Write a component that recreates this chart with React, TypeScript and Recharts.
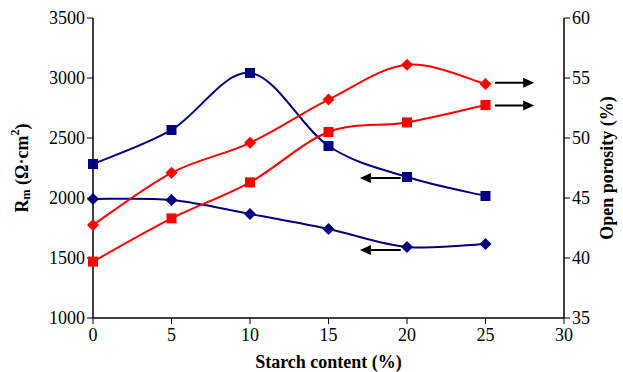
import { LineChart, Line, XAxis, YAxis, ReferenceLine } from 'recharts';

const starch = [0, 5, 10, 15, 20, 25];
const rmSquare = [2283, 2567, 3042, 2433, 2175, 2017];
const rmDiamond = [1992, 1983, 1867, 1742, 1592, 1617];
const porosityDiamond = [42.75, 47.1, 49.6, 53.2, 56.1, 54.5];
const porositySquare = [39.7, 43.3, 46.3, 50.5, 51.3, 52.75];

const xTicks = [0, 5, 10, 15, 20, 25, 30];
const leftTicks = [1000, 1500, 2000, 2500, 3000, 3500];
const rightTicks = [35, 40, 45, 50, 55, 60];

const data = starch.map((s, i) => ({
  starch: s,
  rmSquare: rmSquare[i],
  rmDiamond: rmDiamond[i],
  porDiamond: porosityDiamond[i],
  porSquare: porositySquare[i],
}));

const NAVY = '#000080';
const RED = '#ff0000';
const FONT = '"Liberation Serif", "DejaVu Serif", serif';

// Excel-like smoothing (Catmull-Rom through every point)
function smoothCurve(context: any) {
  let pts: number[][] = [];
  return {
    areaStart() {},
    areaEnd() {},
    lineStart() {
      pts = [];
    },
    point(x: number, y: number) {
      pts.push([+x, +y]);
    },
    lineEnd() {
      const n = pts.length;
      if (!n) return;
      context.moveTo(pts[0][0], pts[0][1]);
      for (let i = 0; i < n - 1; i++) {
        const p0 = pts[Math.max(i - 1, 0)];
        const p1 = pts[i];
        const p2 = pts[i + 1];
        const p3 = pts[Math.min(i + 2, n - 1)];
        context.bezierCurveTo(
          p1[0] + (p2[0] - p0[0]) / 6,
          p1[1] + (p2[1] - p0[1]) / 6,
          p2[0] - (p3[0] - p1[0]) / 6,
          p2[1] - (p3[1] - p1[1]) / 6,
          p2[0],
          p2[1]
        );
      }
    },
  };
}

const squareDot = (color: string) => (props: any) => {
  const { cx, cy, index } = props;
  return <rect key={`s-${color}-${index}`} x={cx - 5} y={cy - 5} width={10} height={10} fill={color} />;
};

const diamondDot = (color: string) => (props: any) => {
  const { cx, cy, index } = props;
  const r = 6;
  return (
    <polygon
      key={`d-${color}-${index}`}
      points={`${cx},${cy - r} ${cx + r},${cy} ${cx},${cy + r} ${cx - r},${cy}`}
      fill={color}
    />
  );
};

const arrow = (dir: 'left' | 'right') => (props: any) => {
  const { x1, y1, x2, y2 } = props;
  const tipX = dir === 'right' ? Math.max(x1, x2) : Math.min(x1, x2);
  const tailX = dir === 'right' ? Math.min(x1, x2) : Math.max(x1, x2);
  const y = (y1 + y2) / 2;
  const d = dir === 'right' ? -1 : 1;
  return (
    <g>
      <line x1={tailX} y1={y} x2={tipX + d * 8} y2={y} stroke="#000" strokeWidth={2} />
      <polygon points={`${tipX},${y} ${tipX + d * 11},${y - 5} ${tipX + d * 11},${y + 5}`} fill="#000" />
    </g>
  );
};

const tickStyle = { fontSize: 18, fill: '#000', fontFamily: FONT };

export default function App() {
  return (
    <div>
      <style>{'body{margin:0;background:#fff}'}</style>
      <LineChart width={623} height={372} data={data} margin={{ top: 18, right: 0, bottom: 0, left: 0 }}>
        <XAxis
          dataKey="starch"
          type="number"
          domain={[0, 30]}
          ticks={xTicks}
          interval={0}
          tick={tickStyle}
          tickSize={6}
          tickMargin={4}
          axisLine={{ stroke: '#000', strokeWidth: 1.5 }}
          tickLine={{ stroke: '#000' }}
          height={54}
          label={{
            value: 'Starch content (%)',
            position: 'insideBottom',
            offset: 4,
            style: { fontSize: 18, fontWeight: 'bold', fill: '#000', fontFamily: FONT },
          }}
        />
        <YAxis
          yAxisId="left"
          domain={[1000, 3500]}
          ticks={leftTicks}
          interval={0}
          width={93}
          tick={tickStyle}
          tickSize={6}
          tickMargin={2}
          axisLine={{ stroke: '#000', strokeWidth: 1.5 }}
          tickLine={{ stroke: '#000' }}
          label={(p: any) => {
            const vb = p.viewBox;
            const cx = 22;
            const cy = vb.y + vb.height / 2;
            return (
              <text
                x={cx}
                y={cy}
                transform={`rotate(-90 ${cx} ${cy})`}
                textAnchor="middle"
                dominantBaseline="central"
                style={{ fontSize: 18, fontWeight: 'bold', fill: '#000', fontFamily: FONT }}
              >
                R<tspan fontSize={12} dy={4}>m</tspan>
                <tspan dy={-4}> (Ω·cm</tspan>
                <tspan fontSize={12} dy={-7}>2</tspan>
                <tspan dy={7}>)</tspan>
              </text>
            );
          }}
        />
        <YAxis
          yAxisId="right"
          orientation="right"
          domain={[35, 60]}
          ticks={rightTicks}
          interval={0}
          width={59}
          tick={tickStyle}
          tickSize={6}
          tickMargin={2}
          axisLine={{ stroke: '#000', strokeWidth: 1.5 }}
          tickLine={{ stroke: '#000' }}
          label={(p: any) => {
            const vb = p.viewBox;
            const cx = 607;
            const cy = vb.y + vb.height / 2;
            return (
              <text
                x={cx}
                y={cy}
                transform={`rotate(-90 ${cx} ${cy})`}
                textAnchor="middle"
                dominantBaseline="central"
                style={{ fontSize: 18, fontWeight: 'bold', fill: '#000', fontFamily: FONT }}
              >
                Open porosity (%)
              </text>
            );
          }}
        />
        <Line
          yAxisId="left"
          dataKey="rmSquare"
          type={smoothCurve as any}
          stroke={NAVY}
          strokeWidth={2}
          dot={squareDot(NAVY)}
          isAnimationActive={false}
        />
        <Line
          yAxisId="left"
          dataKey="rmDiamond"
          type={smoothCurve as any}
          stroke={NAVY}
          strokeWidth={2}
          dot={diamondDot(NAVY)}
          isAnimationActive={false}
        />
        <Line
          yAxisId="right"
          dataKey="porDiamond"
          type={smoothCurve as any}
          stroke={RED}
          strokeWidth={2}
          dot={diamondDot(RED)}
          isAnimationActive={false}
        />
        <Line
          yAxisId="right"
          dataKey="porSquare"
          type={smoothCurve as any}
          stroke={RED}
          strokeWidth={2}
          dot={squareDot(RED)}
          isAnimationActive={false}
        />
        <ReferenceLine
          yAxisId="right"
          segment={[{ x: 25.6, y: 54.6 }, { x: 28.1, y: 54.6 }]}
          shape={arrow('right')}
        />
        <ReferenceLine
          yAxisId="right"
          segment={[{ x: 25.6, y: 52.7 }, { x: 28.1, y: 52.7 }]}
          shape={arrow('right')}
        />
        <ReferenceLine
          yAxisId="left"
          segment={[{ x: 17.0, y: 2167 }, { x: 19.6, y: 2167 }]}
          shape={arrow('left')}
        />
        <ReferenceLine
          yAxisId="left"
          segment={[{ x: 17.0, y: 1567 }, { x: 19.6, y: 1567 }]}
          shape={arrow('left')}
        />
      </LineChart>
    </div>
  );
}
